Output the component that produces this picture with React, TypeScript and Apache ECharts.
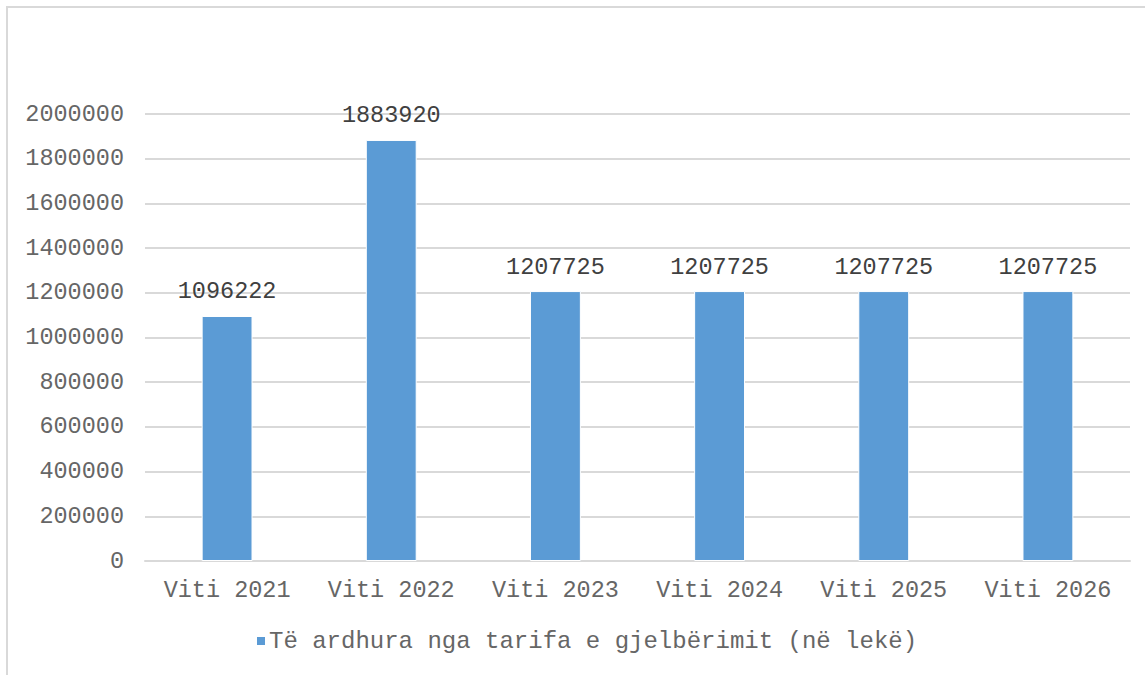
import React, { useEffect, useRef } from "react";
import * as echarts from "echarts";

const categories = ["Viti 2021", "Viti 2022", "Viti 2023", "Viti 2024", "Viti 2025", "Viti 2026"];
const values = [1096222, 1883920, 1207725, 1207725, 1207725, 1207725];
const seriesName = "Të ardhura nga tarifa e gjelbërimit (në lekë)";

const FONT = "'Liberation Mono', 'Courier New', monospace";

export default function App() {
  const ref = useRef<HTMLDivElement>(null);
  useEffect(() => {
    if (!ref.current) return;
    const chart = echarts.init(ref.current, null, { renderer: "svg" });
    chart.setOption({
      animation: false,
      backgroundColor: "#ffffff",
      graphic: [
        {
          type: "rect",
          shape: { x: 7, y: 7, width: 1160, height: 700 },
          style: { fill: "none", stroke: "#d9d9d9", lineWidth: 2 },
          silent: true,
        },
      ],
      grid: { left: 145, right: 15, top: 114, bottom: 114, containLabel: false },
      legend: {
        data: [seriesName],
        bottom: 17,
        left: 250,
        icon: "rect",
        itemWidth: 10,
        itemHeight: 10,
        itemGap: 4,
        textStyle: { fontFamily: FONT, fontSize: 24, color: "#666666", padding: [0, 0, 0, -2] },
      },
      xAxis: {
        type: "category",
        data: categories,
        axisLine: { lineStyle: { color: "#d9d9d9", width: 2 } },
        axisTick: { show: false },
        axisLabel: { fontFamily: FONT, fontSize: 23.5, color: "#666666", margin: 17, interval: 0 },
      },
      yAxis: {
        type: "value",
        min: 0,
        max: 2000000,
        interval: 200000,
        axisLine: { show: false },
        axisTick: { show: false },
        splitLine: { lineStyle: { color: "#d9d9d9", width: 2 } },
        axisLabel: {
          fontFamily: FONT,
          fontSize: 23.5,
          color: "#666666",
          margin: 21,
          formatter: (v: number) => String(v),
        },
      },
      series: [
        {
          name: seriesName,
          type: "bar",
          data: values,
          barWidth: "31%",
          itemStyle: { color: "#5b9bd5", borderColor: "#ffffff", borderWidth: 1 },
          label: {
            show: true,
            position: "top",
            distance: 12,
            fontFamily: FONT,
            fontSize: 23.5,
            color: "#404040",
            formatter: (p: any) => String(p.value),
          },
        },
      ],
    });
    return () => chart.dispose();
  }, []);
  return (
    <div
      ref={ref}
      style={{ position: "absolute", left: 0, top: 0, width: 1145, height: 675 }}
    />
  );
}
